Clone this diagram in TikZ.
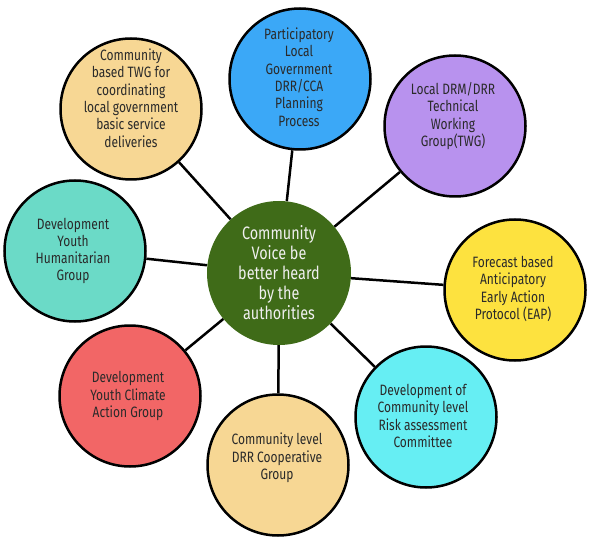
\documentclass[tikz,border=0pt]{standalone}
\usepackage{fontspec}
\setmainfont{Fira Sans}[FakeStretch=0.8]
\usetikzlibrary{backgrounds}
\definecolor{cbeige}{HTML}{F7D794}
\definecolor{cblue}{HTML}{3BA8F7}
\definecolor{cpurple}{HTML}{B892EE}
\definecolor{cyellow}{HTML}{FDE23F}
\definecolor{ccyan}{HTML}{66EEF3}
\definecolor{cred}{HTML}{F26666}
\definecolor{cteal}{HTML}{6BDAC7}
\definecolor{cgreen}{HTML}{3F6B18}
\definecolor{textgray}{HTML}{2A2A2A}
\begin{document}
\begin{tikzpicture}[x=1pt,y=-1pt,
  sat/.style={circle, draw=black, line width=2.5pt, minimum size=141pt, inner sep=0pt},
  txt/.style={align=center, text=textgray, inner sep=0pt, font=\fontsize{15}{17.3}\selectfont},
  link/.style={line width=2.5pt, draw=black}]
\useasboundingbox (0,0) rectangle (589,540);

\node[circle, fill=cgreen, minimum size=144pt, inner sep=0pt] (c) at (279,273) {};
\node[align=center, text=white!94!black, inner sep=0pt, font=\fontsize{18}{20}\selectfont] (ct) at (279,273)
  {Community\\Voice be\\better heard\\by the\\authorities};

\node[sat, fill=cbeige] (s1) at (131,109) {};
\node[txt] (t1) at (131,98) {Community\\based TWG for\\coordinating\\local government\\basic service\\deliveries};

\node[sat, fill=cblue] (s2) at (300,79) {};
\node[txt] (t2) at (299,77) {Participatory\\Local\\Government\\DRR/CCA\\Planning\\Process};

\node[sat, fill=cpurple] (s3) at (455,126) {};
\node[txt] (t3) at (453,116) {Local DRM/DRR\\Technical\\Working\\Group(TWG)};

\node[sat, fill=cyellow] (s4) at (515,290) {};
\node[txt] (t4) at (513,289) {Forecast based\\Anticipatory\\Early Action\\Protocol (EAP)};

\node[sat, fill=ccyan] (s5) at (426,417) {};
\node[txt] (t5) at (423,416) {Development of\\Community level\\Risk assessment\\Committee};

\node[sat, fill=cbeige] (s6) at (278,465) {};
\node[txt] (t6) at (277,458) {Community level\\DRR Cooperative\\Group};

\node[sat, fill=cred] (s7) at (130,396) {};
\node[txt] (t7) at (128,396) {Development\\Youth Climate\\Action Group};

\node[sat, fill=cteal] (s8) at (75,251) {};
\node[txt] (t8) at (73,251) {Development\\Youth\\Humanitarian\\Group};

\begin{pgfonlayer}{background}
\foreach \s in {s1,s2,s3,s4,s5,s6,s7,s8}
  \draw[link] (c) -- (\s);
\end{pgfonlayer}
\end{tikzpicture}
\end{document}
